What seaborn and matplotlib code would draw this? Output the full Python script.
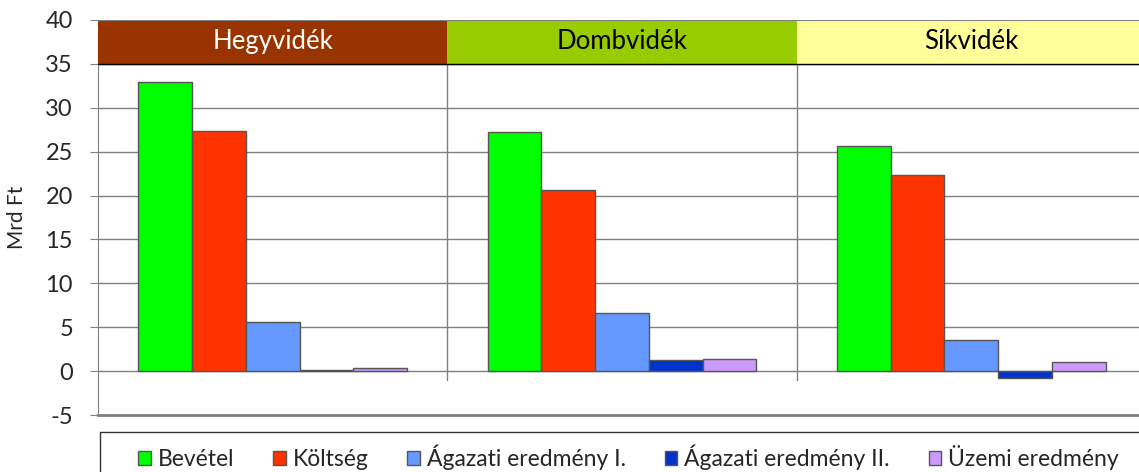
import pandas as pd
import seaborn as sns
import matplotlib.pyplot as plt
from matplotlib.patches import Rectangle

regions = ["Hegyvidék", "Dombvidék", "Síkvidék"]
series = ["Bevétel", "Költség", "Ágazati eredmény I.", "Ágazati eredmény II.", "Üzemi eredmény"]
bevetel = [32.9, 27.2, 25.7]
koltseg = [27.4, 20.6, 22.3]
agazati_1 = [5.6, 6.6, 3.5]
agazati_2 = [0.1, 1.3, -0.8]
uzemi = [0.4, 1.4, 1.0]

series_colors = ["#00FF00", "#FF3300", "#6699FF", "#0033CC", "#CC99FF"]
header_colors = ["#993300", "#99CC00", "#FFFF99"]
header_text = ["white", "black", "black"]

values = [bevetel, koltseg, agazati_1, agazati_2, uzemi]
rows = []
for name, vals in zip(series, values):
    for reg, v in zip(regions, vals):
        rows.append({"region": reg, "series": name, "value": v})
df = pd.DataFrame(rows)

sns.set_style("white")
plt.rcParams['font.family'] = ['Lato', 'DejaVu Sans']
plt.rcParams['axes.unicode_minus'] = False

fig = plt.figure(figsize=(11.39, 4.72), dpi=100)
ax = fig.add_axes([98 / 1139, 57 / 472, 1048 / 1139, 395 / 472])

# gridlines
for y in range(0, 40, 5):
    ax.axhline(y, color="#808080", lw=1, zorder=0)

sns.barplot(data=df, x="region", y="value", hue="series", order=regions,
            hue_order=series, palette=series_colors, width=0.77,
            edgecolor="#555555", linewidth=1, saturation=1, ax=ax, zorder=2)

ax.set_xlim(-0.5, len(regions) - 0.5)
ax.set_ylim(-5, 40)
ax.set_yticks(range(-5, 41, 5))
ax.tick_params(axis="y", labelsize=17, length=6, color="#808080", left=True, pad=12)
ax.set_xticks([])
ax.set_xlabel("")
ax.set_ylabel("Mrd Ft", fontsize=15)
ax.yaxis.set_label_coords(-0.068, 0.5)

for s in ["top", "right"]:
    ax.spines[s].set_visible(False)
ax.spines["left"].set_color("#808080")
ax.spines["bottom"].set_color("#808080")
ax.spines["bottom"].set_linewidth(2)

# group separators
for i in range(1, len(regions)):
    ax.plot([i - 0.5, i - 0.5], [-1.0, 40], color="#808080", lw=1, zorder=1)

# header bands
for i, reg in enumerate(regions):
    ax.add_patch(Rectangle((i - 0.5, 35), 1, 5, facecolor=header_colors[i],
                           edgecolor="none", zorder=3))
    ax.text(i, 37.6, reg, ha="center", va="center", fontsize=18.5,
            color=header_text[i], zorder=4)
ax.plot([-0.5, len(regions) - 0.5], [35, 35], color="black", lw=1, zorder=4)
ax.plot([-0.5, len(regions) - 0.5], [40, 40], color="#808080", lw=1.5, zorder=4)

handles, labels = ax.get_legend_handles_labels()
ax.get_legend().remove()
fig.add_artist(Rectangle((100 / 1139, -0.05), 1.0, (472 - 432) / 472 + 0.05,
                         transform=fig.transFigure, facecolor="white",
                         edgecolor="#333333", lw=1))
leg = fig.legend(handles, labels, ncol=5, loc="center left",
                 bbox_to_anchor=(129 / 1139, 1 - 457 / 472),
                 fontsize=16.5, frameon=False, handlelength=0.55, handleheight=0.55,
                 handletextpad=0.3, borderaxespad=0, columnspacing=1.7)

fig.savefig("out.png", dpi=100)
